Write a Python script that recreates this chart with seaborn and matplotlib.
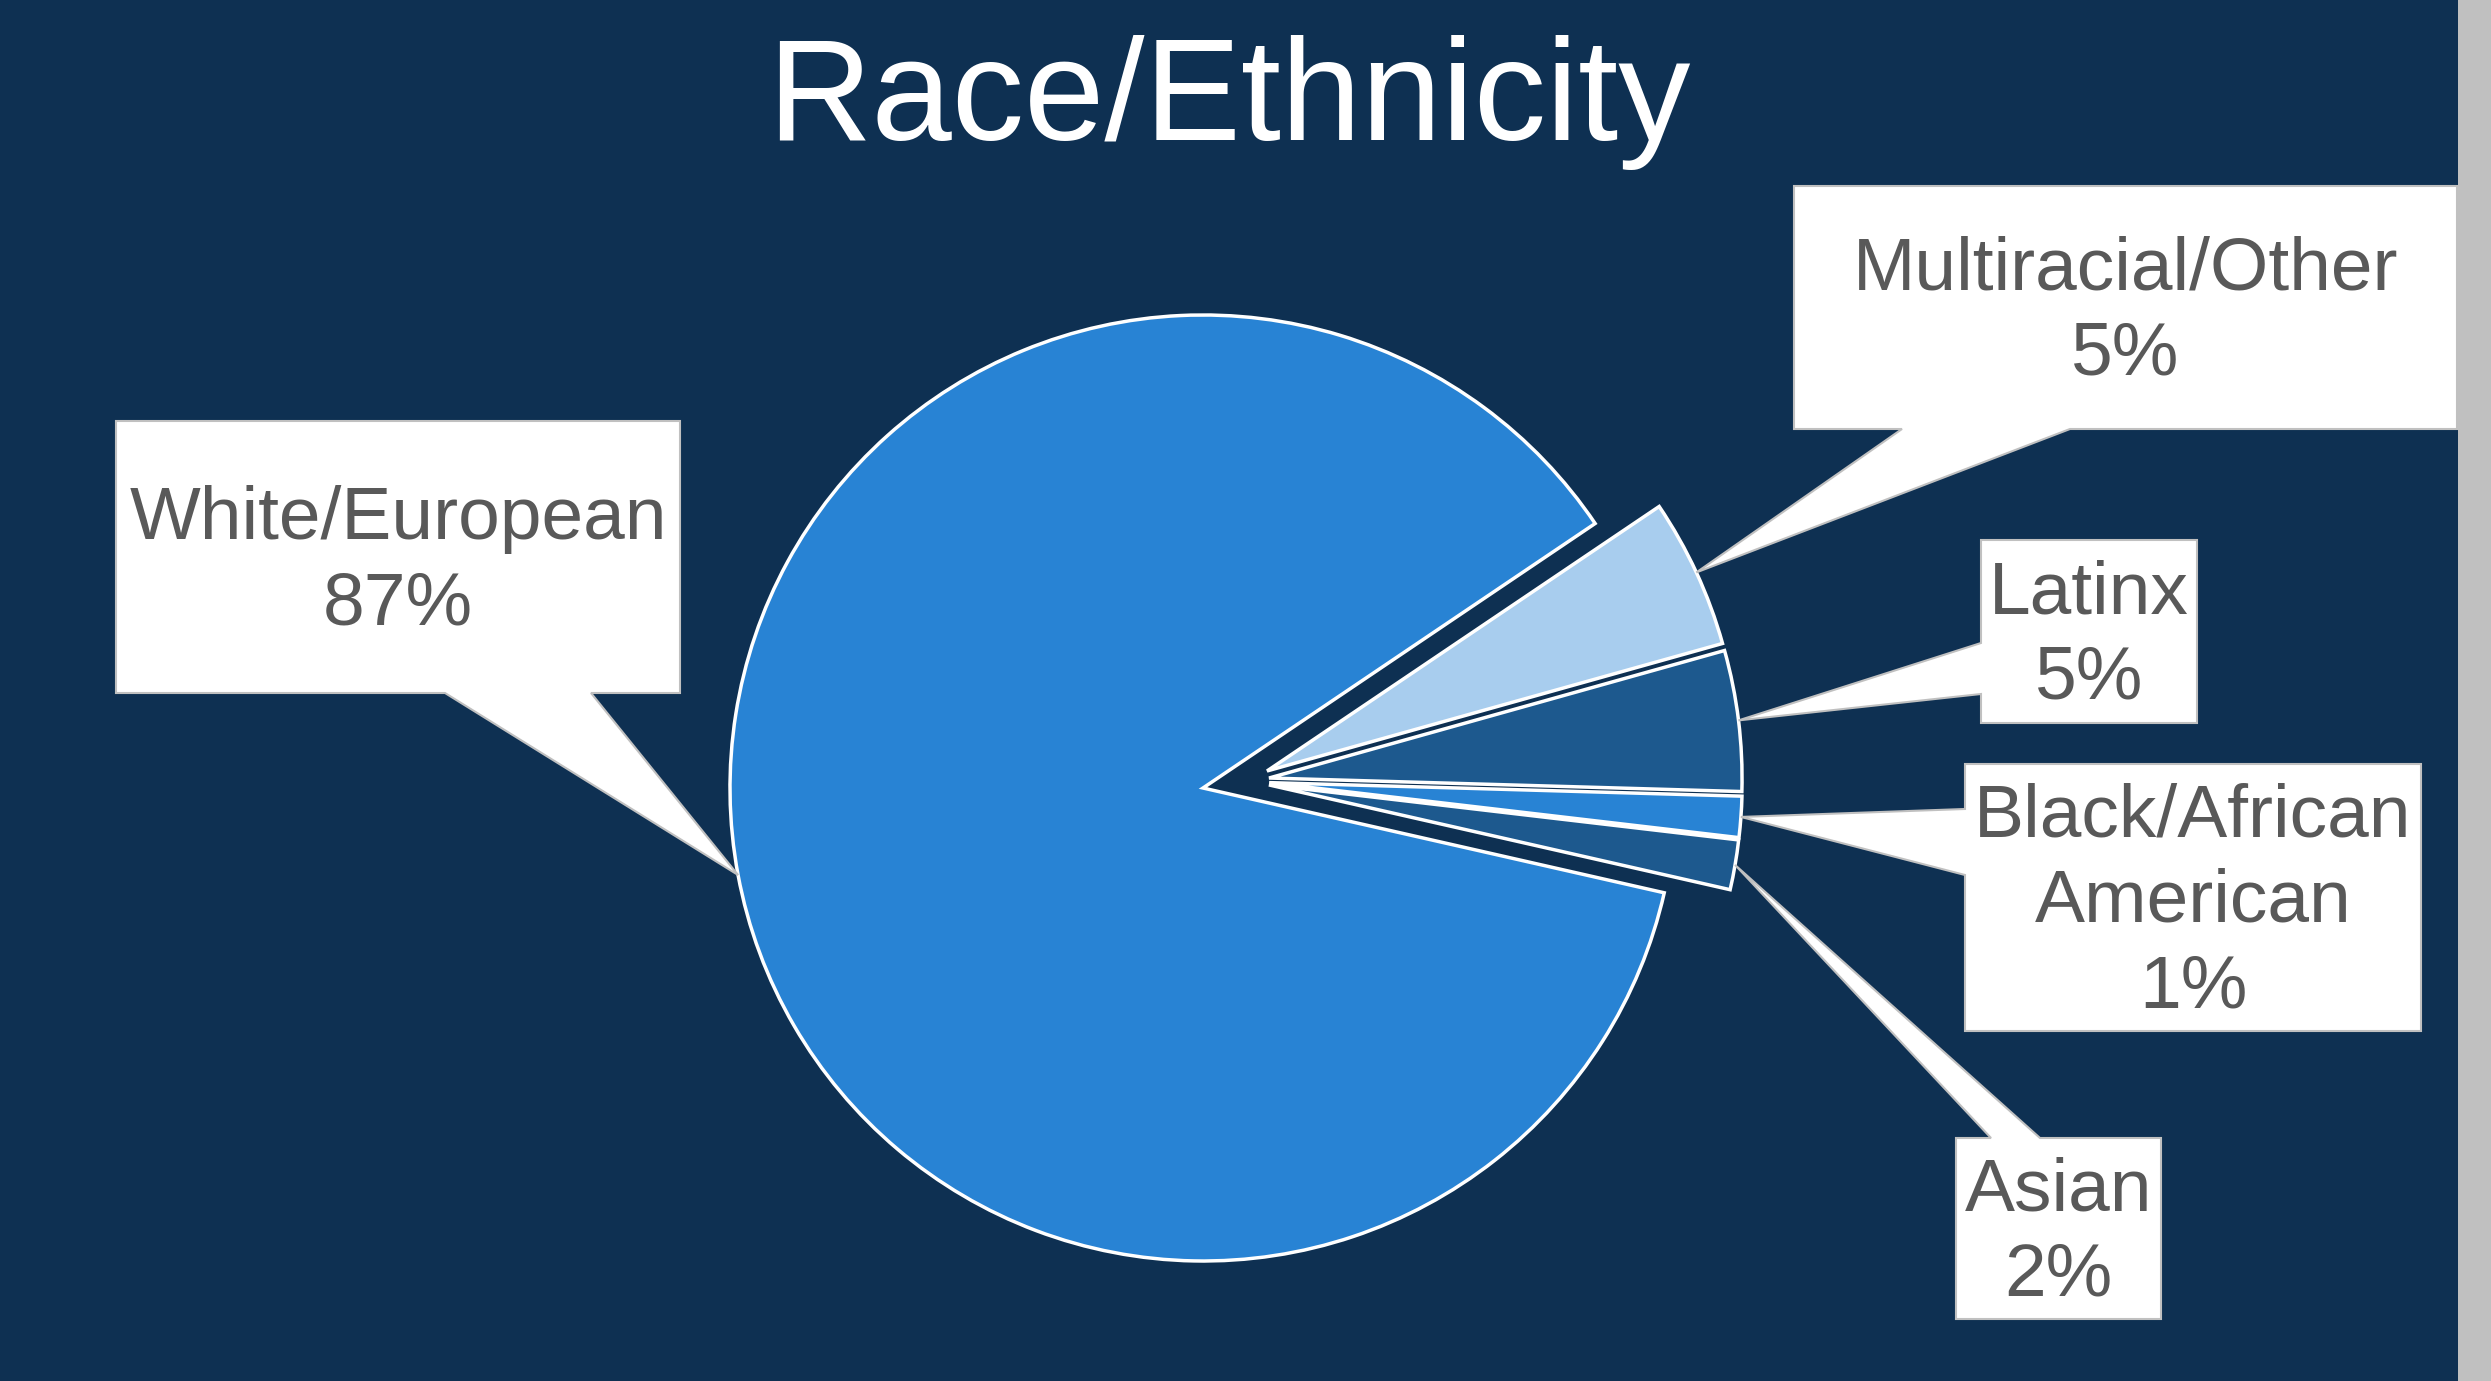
import matplotlib
matplotlib.use("Agg")
import matplotlib.pyplot as plt
from matplotlib.patches import Polygon, Rectangle
from matplotlib.transforms import IdentityTransform
import numpy as np
import seaborn as sns

# ---- data ----
categories = ["White/European", "Multiracial/Other", "Latinx", "Black/African\nAmerican", "Asian"]
shares = [87.0, 5.1, 4.8, 1.4, 1.7]
pct_labels = ["87%", "5%", "5%", "1%", "2%"]
slice_colors = ["#2883d4", "#a8cdee", "#1d598e", "#2883d4", "#1d598e"]
title = "Race/Ethnicity"

sns.set_theme(style="white")
plt.rcParams["font.family"] = ["Liberation Sans", "DejaVu Sans"]

W, H = 2491, 1381
NAVY = "#0e3052"
TEXT = "#595959"
fig = plt.figure(figsize=(W / 100, H / 100), dpi=100, facecolor=NAVY)
ax = fig.add_axes([0, 0, 1, 1])
ax.set_facecolor(NAVY)

palette = sns.color_palette(slice_colors)
explode = [0, 0.05, 0.05, 0.05, 0.05]
wedges, _ = ax.pie(shares, colors=palette, startangle=347.2, counterclock=False,
                   explode=explode,
                   wedgeprops=dict(edgecolor="white", linewidth=2.5))
# group offset of the small slices
for w in wedges[1:]:
    cx, cy = w.center
    w.set_center((cx + 0.09, cy + 0.015))

PX = 473.0
CX, CY = 1203.0, H - 788.0
ax.set_xlim(-CX / PX, (W - CX) / PX)
ax.set_ylim(-CY / PX, (H - CY) / PX)
ax.set_aspect("auto")
ax.axis("off")

# gray strip at right
fig.add_artist(Rectangle((2458 / W, 0), (W - 2458) / W, 1, transform=fig.transFigure,
                         facecolor="#c0c0c0", edgecolor="none"))

# callout boxes (pixel layout, top-left origin): l, t, r, b, side, base a, base b
boxes = [
    (116, 421, 680, 693, "bottom", 445, 591),
    (1794, 186, 2457, 429, "bottom", 1902, 2070),
    (1981, 540, 2197, 723, "left", 643, 694),
    (1965, 764, 2421, 1031, "left", 809, 875),
    (1956, 1138, 2161, 1319, "top", 1991, 2040),
]

for w, cat, pct, (l, t, r, b, side, a1, a2) in zip(wedges, categories, pct_labels, boxes):
    mid = np.deg2rad((w.theta1 + w.theta2) / 2)
    cx, cy = w.center
    ax_pt = ax.transData.transform((cx + w.r * np.cos(mid), cy + w.r * np.sin(mid)))
    apex = (ax_pt[0], H - ax_pt[1])  # to top-origin
    if side == "bottom":
        pts = [(l, t), (r, t), (r, b), (a2, b), apex, (a1, b), (l, b)]
    elif side == "left":
        pts = [(l, t), (r, t), (r, b), (l, b), (l, a2), apex, (l, a1)]
    else:
        pts = [(l, t), (a1, t), apex, (a2, t), (r, t), (r, b), (l, b)]
    pts = [(x, H - y) for x, y in pts]
    fig.add_artist(Polygon(pts, closed=True, transform=IdentityTransform(),
                           facecolor="white", edgecolor="#c0c0c0", linewidth=1.5))
    fig.text((l + r) / 2 / W, 1 - ((t + b) / 2 + 5) / H, f"{cat}\n{pct}", ha="center",
             va="center", fontsize=54, color=TEXT, linespacing=1.3)

fig.text(1229 / W, 1 - 140 / H, title, ha="center", va="baseline", fontsize=104,
         color="white")

fig.savefig("out.png", dpi=100, facecolor=NAVY)
